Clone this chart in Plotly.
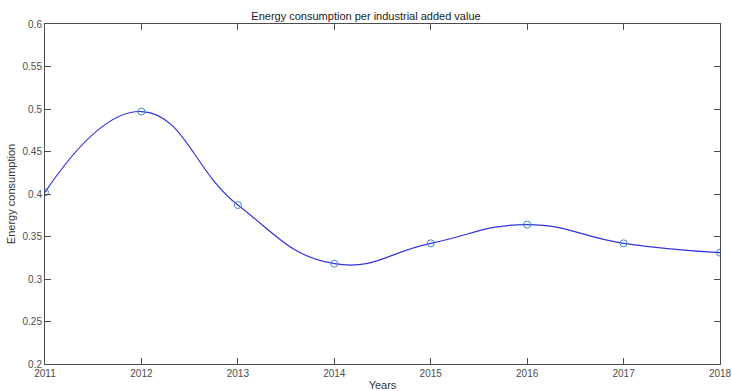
import plotly.graph_objects as go

years = [2011, 2012, 2013, 2014, 2015, 2016, 2017, 2018]
energy = [0.402, 0.497, 0.387, 0.318, 0.342, 0.364, 0.342, 0.331]
y_ticks = [0.2, 0.25, 0.3, 0.35, 0.4, 0.45, 0.5, 0.55, 0.6]
y_tick_labels = ["0.2", "0.25", "0.3", "0.35", "0.4", "0.45", "0.5", "0.55", "0.6"]

FONT = "Liberation Sans, Arial, sans-serif"

fig = go.Figure()
fig.add_trace(go.Scatter(
    x=years, y=energy, mode="lines",
    line=dict(color="#3333dd", width=1.2, shape="spline", smoothing=1.3),
    hoverinfo="skip", showlegend=False,
))
fig.add_trace(go.Scatter(
    x=years, y=energy, mode="markers",
    marker=dict(symbol="circle-open", size=7, color="#3d85d0", line=dict(width=1)),
    showlegend=False,
))

axis_common = dict(
    showgrid=False, zeroline=False, showline=True, linecolor="#4d4d4d", linewidth=1,
    mirror="ticks", ticks="inside", ticklen=6, tickcolor="#4d4d4d", tickwidth=1,
    tickfont=dict(family=FONT, size=10, color="#4d4d4d"), automargin=False,
)

fig.update_layout(
    width=732, height=391,
    margin=dict(l=45, r=12, t=24, b=27),
    paper_bgcolor="white", plot_bgcolor="white",
    title=dict(text="Energy consumption per industrial added value", x=0.5, xanchor="center",
               y=1 - 16 / 391, yanchor="middle",
               font=dict(family=FONT, size=11, color="#222222")),
    xaxis=dict(range=[2011, 2018], tickmode="array", tickvals=years,
               ticktext=[str(y) for y in years],
               title=dict(text="Years", standoff=6, font=dict(family=FONT, size=11, color="#333333")),
               **axis_common),
    yaxis=dict(range=[0.2, 0.6], tickmode="array", tickvals=y_ticks, ticktext=y_tick_labels,
               title=dict(text="Energy consumption", standoff=4, font=dict(family=FONT, size=11, color="#333333")),
               **axis_common),
)

fig.write_html("out.html")
